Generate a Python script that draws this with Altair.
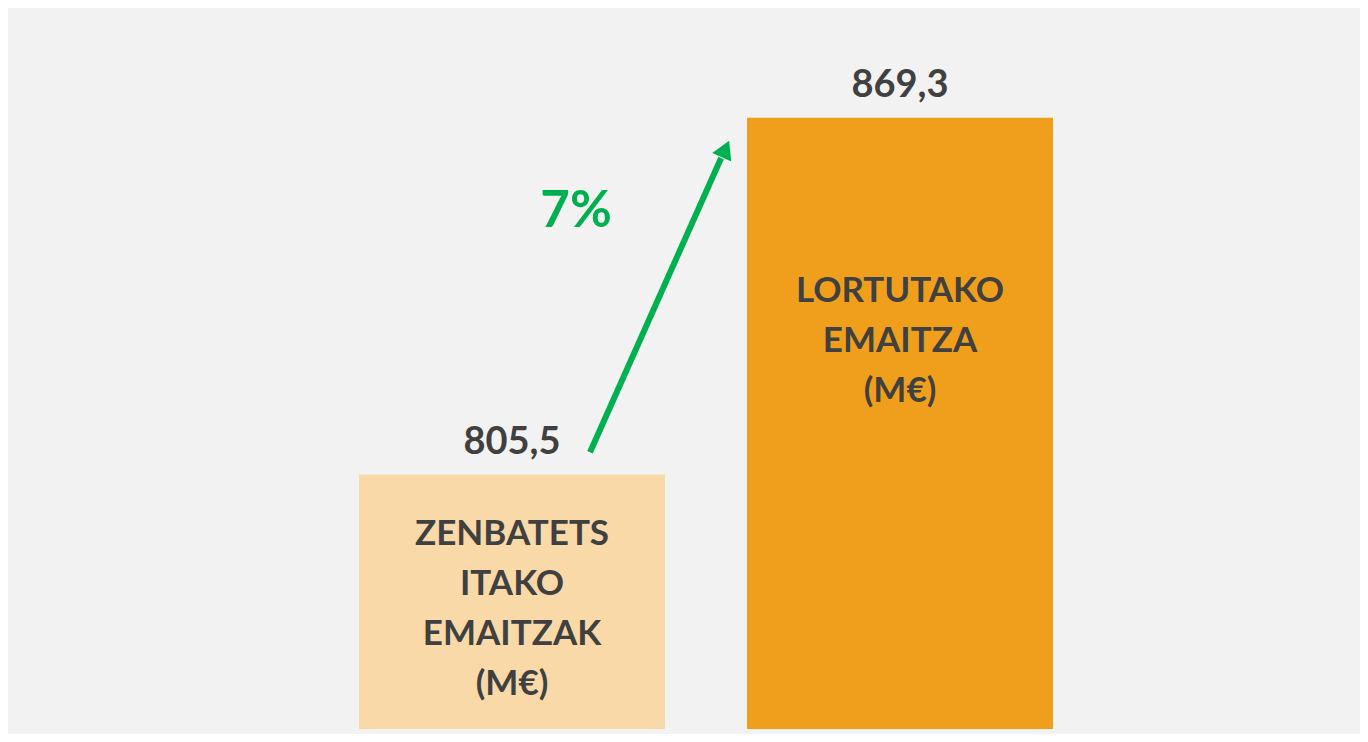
import altair as alt
import pandas as pd

# ---- data ----
categories = ["ZENBATETSITAKO EMAITZAK (M€)", "LORTUTAKO EMAITZA (M€)"]
positions = [1, 2]
values = [805.5, 869.3]
value_labels = ["805,5", "869,3"]
bar_lines = [["ZENBATETS", "ITAKO", "EMAITZAK", "(M€)"], ["LORTUTAKO", "EMAITZA", "(M€)"]]
bar_label_y = [792.9, 836.35]
bar_colors = ["#F8D9A7", "#F09F1C"]
baseline_value = 760

# growth annotation
growth_text = ["7%"]
growth_x = [1.165]
growth_y = [849.8]
arrow_x = [1.201]
arrow_y = [809.5]
arrow_x2 = [1.539]
arrow_y2 = [862.1]
head_x = [1.550]
head_y = [863.7]

GREEN = "#00B050"
DARK = "#404040"
FONT = "Lato"

bars = pd.DataFrame({
    "cat": categories,
    "pos": positions,
    "value": values,
    "label": value_labels,
    "lines": bar_lines,
    "label_y": bar_label_y,
    "base": [baseline_value] * len(values),
})
growth = pd.DataFrame({"t": growth_text, "x": growth_x, "y": growth_y})
arrow = pd.DataFrame({"x": arrow_x, "y": arrow_y, "x2": arrow_x2, "y2": arrow_y2})
head = pd.DataFrame({"x": head_x, "y": head_y})

xs = alt.Scale(domain=[-0.299, 3.1856], nice=False, zero=False, padding=0)
ys = alt.Scale(domain=[760, 890], range=[721, -6], nice=False, zero=False, padding=0)

X = lambda f: alt.X(f, type="quantitative", scale=xs, axis=None)
Y = lambda f: alt.Y(f, type="quantitative", scale=ys, axis=None)

base = alt.Chart(bars)

bar_layer = base.mark_bar(size=306).encode(
    x=X("pos"),
    y=Y("value"),
    y2=alt.Y2("base"),
    color=alt.Color("cat:N", scale=alt.Scale(domain=categories, range=bar_colors), legend=None),
)

value_text = base.mark_text(
    font=FONT, fontWeight="bold", fontSize=38, color=DARK,
    align="center", baseline="alphabetic", dy=-21,
).encode(x=X("pos"), y=Y("value"), text=alt.Text("label:N"))

inner_text = base.mark_text(
    font=FONT, fontWeight="bold", fontSize=35, color=DARK,
    align="center", baseline="alphabetic", lineHeight=50,
).encode(x=X("pos"), y=Y("label_y"), text=alt.Text("lines:N"))

shaft = alt.Chart(arrow).mark_rule(color=GREEN, strokeWidth=6).encode(
    x=X("x"), y=Y("y"), x2=alt.X2("x2"), y2=alt.Y2("y2"),
)

arrow_head = alt.Chart(head).mark_point(
    shape="triangle-up", filled=True, size=430, angle=24, color=GREEN, opacity=1,
).encode(x=X("x"), y=Y("y"))

growth_label = alt.Chart(growth).mark_text(
    font=FONT, fontWeight="bold", fontSize=51, color=GREEN,
    align="center", baseline="alphabetic",
).encode(x=X("x"), y=Y("y"), text=alt.Text("t:N"))

chart = alt.layer(
    bar_layer, value_text, inner_text, shaft, arrow_head, growth_label
).properties(
    width=1352, height=726, padding=0, background="#F2F2F2",
).configure_view(stroke=None)

chart.save("out.html", embed_options={"renderer": "svg", "actions": False})
